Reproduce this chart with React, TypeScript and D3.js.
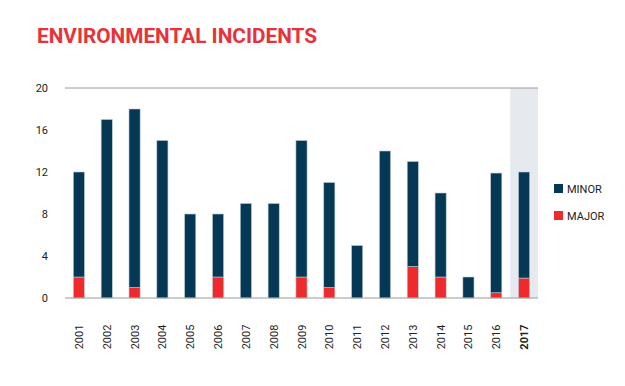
import React, { useRef, useEffect } from 'react';
import * as d3 from 'd3';

const years = ['2001', '2002', '2003', '2004', '2005', '2006', '2007', '2008', '2009', '2010', '2011', '2012', '2013', '2014', '2015', '2016', '2017'];
const major = [2, 0, 1, 0, 0, 2, 0, 0, 2, 1, 0, 0, 3, 2, 0, 0.5, 1.9];
const minor = [10, 17, 17, 15, 8, 6, 9, 9, 13, 10, 5, 14, 10, 8, 2, 11.4, 10.1];
const yTicks = [0, 4, 8, 12, 16, 20];
const legendItems = ['MINOR', 'MAJOR'];

const NAVY = '#053854';
const RED = '#ee2a2d';

function App() {
  const canvas = useRef<HTMLDivElement>(null);

  useEffect(() => {
    const width = 625;
    const height = 386;
    const margin = { top: 88, right: 87, bottom: 88, left: 65 };
    const innerW = width - margin.left - margin.right;
    const innerH = height - margin.top - margin.bottom;

    d3.select(canvas.current).select('svg').remove();

    const svg = d3
      .select(canvas.current)
      .append('svg')
      .attr('width', width)
      .attr('height', height)
      .style('display', 'block')
      .style('font-family', '"Roboto", "DejaVu Sans", sans-serif');

    // title
    svg.append('text')
      .attr('x', 37)
      .attr('y', 43)
      .attr('fill', '#e8323a')
      .style('font-size', '21px')
      .style('font-weight', 700)
      .attr('textLength', 280)
      .attr('lengthAdjust', 'spacingAndGlyphs')
      .text('ENVIRONMENTAL INCIDENTS');

    const g = svg.append('g').attr('transform', `translate(${margin.left}, ${margin.top})`);

    const x = d3.scaleBand().domain(years).range([0, innerW]).paddingInner(0.6).paddingOuter(0.3);
    const y = d3.scaleLinear().domain([0, 20]).range([innerH, 0]);

    // highlight band for latest year
    const step = x.step();
    const lastX = x('2017')! + x.bandwidth() / 2;
    g.append('rect')
      .attr('x', lastX - step / 2)
      .attr('y', y(20))
      .attr('width', innerW - (lastX - step / 2))
      .attr('height', innerH)
      .attr('fill', '#e6eaef');

    // top line at 20 and baseline
    g.append('line')
      .attr('x1', 0).attr('x2', innerW)
      .attr('y1', y(20)).attr('y2', y(20))
      .attr('stroke', '#9a9a9a').attr('stroke-width', 1);

    // stacked bars
    const stackData = years.map((yr, i) => ({ year: yr, major: major[i], minor: minor[i] }));
    const stack = d3.stack<any>().keys(['major', 'minor'])(stackData);
    const colors: Record<string, string> = { major: RED, minor: NAVY };

    stack.forEach((layer) => {
      g.append('g')
        .selectAll('rect')
        .data(layer.filter((d) => d[1] - d[0] > 0))
        .enter()
        .append('rect')
        .attr('x', (d) => x(d.data.year)!)
        .attr('y', (d) => y(d[1]))
        .attr('width', x.bandwidth())
        .attr('height', (d) => y(d[0]) - y(d[1]))
        .attr('fill', colors[layer.key])
        .attr('stroke', '#b9cbd6')
        .attr('stroke-width', 0.6);
    });

    g.append('line')
      .attr('x1', 0).attr('x2', innerW)
      .attr('y1', innerH).attr('y2', innerH)
      .attr('stroke', '#9a9a9a').attr('stroke-width', 1.2);

    // y labels
    g.selectAll('.ylab')
      .data(yTicks)
      .enter()
      .append('text')
      .attr('x', -17)
      .attr('y', (d) => y(d) + 4)
      .attr('text-anchor', 'end')
      .attr('fill', '#222')
      .style('font-size', '11px')
      .text((d) => d);

    // x labels, rotated
    g.selectAll('.xlab')
      .data(years)
      .enter()
      .append('text')
      .attr('transform', (d) => `translate(${x(d)! + x.bandwidth() / 2 + 4}, ${innerH + 39}) rotate(-90)`)
      .attr('text-anchor', 'middle')
      .attr('fill', '#222')
      .style('font-size', '11px')
      .style('font-weight', (d) => (d === '2017' ? 700 : 400))
      .text((d) => d);

    // legend
    const legend = svg.append('g').attr('transform', 'translate(554, 184)');
    legendItems.forEach((name, i) => {
      const row = legend.append('g').attr('transform', `translate(0, ${i * 27})`);
      row.append('rect')
        .attr('width', 9).attr('height', 9)
        .attr('fill', name === 'MINOR' ? NAVY : RED);
      row.append('text')
        .attr('x', 13)
        .attr('y', 9)
        .attr('fill', '#222')
        .style('font-size', '11px')
        .text(name);
    });
  }, []);

  return <div ref={canvas} style={{ margin: '-8px' }}></div>;
}

export default App;
